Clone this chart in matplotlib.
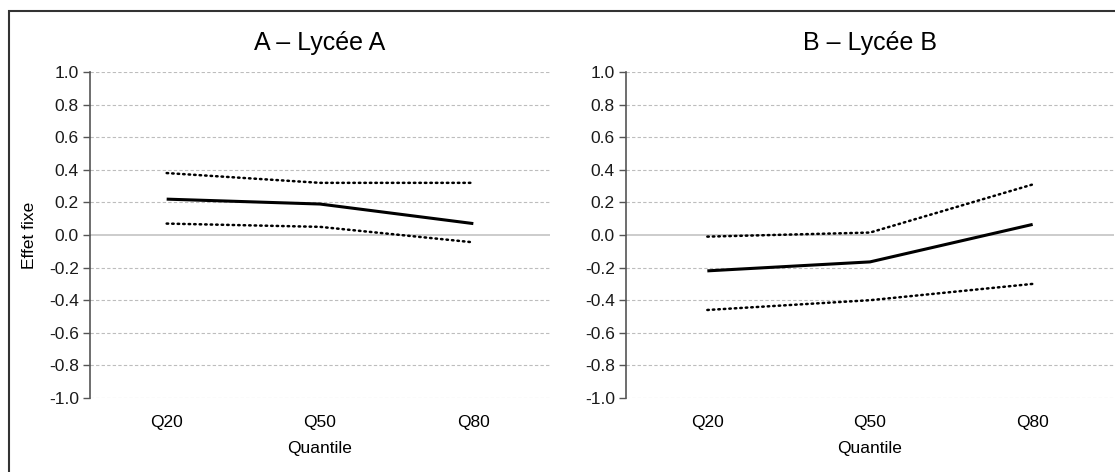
import matplotlib.pyplot as plt
from matplotlib.patches import Rectangle

plt.rcParams['font.family'] = ['Liberation Sans', 'DejaVu Sans']

# quantiles on the x axis
quantiles = ["Q20", "Q50", "Q80"]

# Lycée A: fixed effect and its confidence band
a_effet = [0.22, 0.19, 0.07]
a_haut = [0.38, 0.32, 0.32]
a_bas = [0.07, 0.05, -0.045]

# Lycée B
b_effet = [-0.22, -0.165, 0.065]
b_haut = [-0.01, 0.015, 0.31]
b_bas = [-0.46, -0.40, -0.30]

yticks = [-1.0, -0.8, -0.6, -0.4, -0.2, 0.0, 0.2, 0.4, 0.6, 0.8, 1.0]

fig = plt.figure(figsize=(11.15, 4.72), dpi=100)
ax1 = fig.add_axes([90 / 1115, 1 - 398 / 472, 460 / 1115, 326 / 472])
ax2 = fig.add_axes([626 / 1115, 1 - 398 / 472, 488 / 1115, 326 / 472])

panels = [
    (ax1, "A – Lycée A", a_effet, a_haut, a_bas),
    (ax2, "B – Lycée B", b_effet, b_haut, b_bas),
]

for ax, titre, effet, haut, bas in panels:
    x = range(len(quantiles))
    for y in yticks:
        if y == 0:
            ax.axhline(y, color="#c8c8c8", lw=1.3, zorder=1)
        else:
            ax.axhline(y, color="#bdbdbd", lw=0.8, ls=(0, (3, 2)), zorder=1)
    ax.plot(x, effet, color="black", lw=2.2, zorder=3, solid_capstyle="butt")
    ax.plot(x, haut, color="black", lw=1.8, ls=(0, (0.6, 1.6)),
            dash_capstyle="round", zorder=3)
    ax.plot(x, bas, color="black", lw=1.8, ls=(0, (0.6, 1.6)),
            dash_capstyle="round", zorder=3)

    ax.set_xlim(-0.5, 2.5)
    ax.set_ylim(-1.0, 1.0)
    ax.set_yticks(yticks)
    ax.set_yticklabels([f"{v:.1f}" for v in yticks], fontsize=12.5)
    ax.set_xticks(list(x))
    ax.set_xticklabels(quantiles, fontsize=12.5)
    ax.tick_params(axis="x", length=0, pad=12.5)
    ax.tick_params(axis="y", length=5, width=1, color="#555555", pad=3,
                   labelcolor="#1a1a1a")
    for s in ("top", "right", "bottom"):
        ax.spines[s].set_visible(False)
    ax.spines["left"].set_color("#555555")
    ax.spines["left"].set_linewidth(1.2)
    ax.set_title(titre, fontsize=18, pad=16)
    ax.set_xlabel("Quantile", fontsize=12.5, labelpad=7.5)

ax1.set_ylabel("Effet fixe", fontsize=12.5, labelpad=8.5)

# outer frame around both panels
fig.patches.append(Rectangle((9 / 1115, -0.1), 1.2, 1 - 11 / 472 + 0.1,
                             transform=fig.transFigure, fill=False,
                             edgecolor="#333333", lw=1.5))

fig.savefig("out.png", dpi=100)
